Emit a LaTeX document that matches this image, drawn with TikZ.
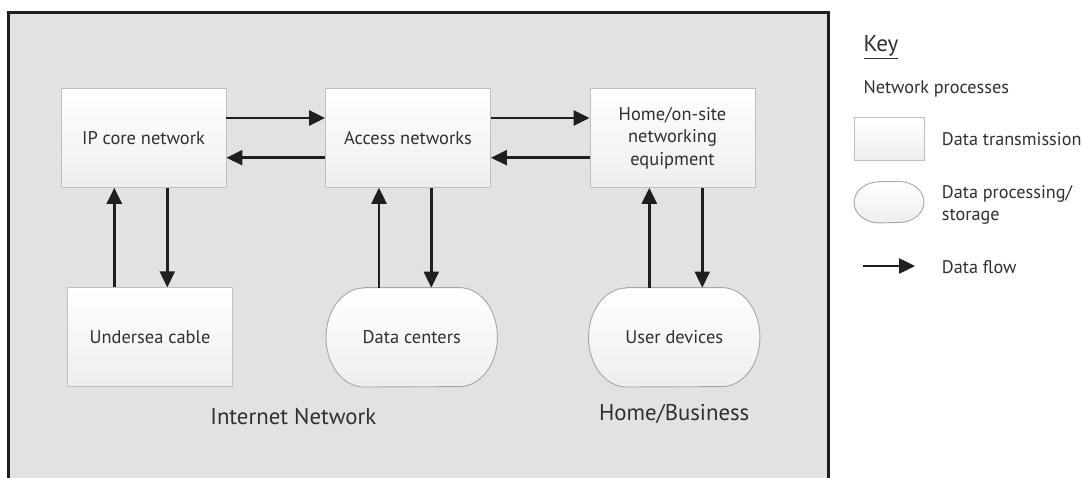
\documentclass[tikz,border=0pt]{standalone}
\usepackage{fontspec}
\setmainfont{PT Sans}
\usetikzlibrary{arrows.meta,backgrounds}
\definecolor{panel}{HTML}{E1E2E4}
\definecolor{ink}{HTML}{303030}
\definecolor{edge}{HTML}{BDBFC2}
\definecolor{shadeb}{HTML}{EDEEF0}
\tikzset{
  x=1pt,y=1pt,
  txt/.style={text=ink,font=\fontsize{18.4}{22.5}\selectfont,align=center},
  procbox/.style={txt,draw=edge,line width=0.9pt,top color=white,bottom color=shadeb,
    minimum width=165pt,minimum height=99pt,inner sep=0pt},
  storebox/.style={txt,minimum width=171pt,minimum height=99pt,inner sep=0pt},
  stadline/.style={draw=gray!70,line width=0.9pt,top color=white,bottom color=shadeb},
  flow/.style={draw=black!88,line width=2.5pt,-{Triangle[length=16pt,width=15pt]}},
  regionlbl/.style={text=ink,font=\fontsize{22.8}{26}\selectfont},
  keytxt/.style={text=ink,font=\fontsize{18.2}{22.7}\selectfont,anchor=west,align=left,inner sep=0pt},
}
% stadium outline around a node: #1 node, #2 horizontal radius, #3 vertical radius
\newcommand\stadiumaround[3]{%
  \path[stadline] ([xshift=#2]#1.north west) -- ([xshift=-#2]#1.north east)
    arc[start angle=90,end angle=-90,x radius=#2,y radius=#3]
    -- ([xshift=#2]#1.south west)
    arc[start angle=270,end angle=90,x radius=#2,y radius=#3] -- cycle;}
\begin{document}
\begin{tikzpicture}
\useasboundingbox (0,0) rectangle (1082,-477);
\clip (0,0) rectangle (1082,-477);
% framed panel
\begin{scope}[on background layer]
  \fill[white] (0,0) rectangle (1082,-477);
  \draw[fill=panel,draw=black!88,line width=2.8pt] (8.3,-12.7) rectangle (828.3,-500);
\end{scope}

% transmission boxes
\node[procbox] (ip)   at (143.5,-137.8) {IP core network};
\node[procbox] (acc)  at (408,-137.8)   {Access networks};
\node[procbox] (home) at (672.5,-137.8) {Home/on-site\\networking\\equipment};
\node[procbox] (uc)   at (150,-337.3)   {Undersea cable};

% processing / storage nodes
\node[storebox] (dc) at (411.7,-337.3) {Data centers};
\node[storebox] (ud) at (674.2,-337.3) {User devices};
\begin{scope}[on background layer]
  \stadiumaround{dc}{38pt}{49.5pt}
  \stadiumaround{ud}{38pt}{49.5pt}
\end{scope}

% region labels
\node[regionlbl] (inet) at (293.3,-416.3) {Internet Network};
\node[regionlbl] (hb)   at (674.2,-413.7) {Home/Business};

% horizontal data flows
\draw[flow] ([yshift=19.8pt]ip.east)    -- ([yshift=19.8pt]acc.west);
\draw[flow] ([yshift=-19.9pt]acc.west)  -- ([yshift=-19.9pt]ip.east);
\draw[flow] ([yshift=19.8pt]acc.east)   -- ([yshift=19.8pt]home.west);
\draw[flow] ([yshift=-19.9pt]home.west) -- ([yshift=-19.9pt]acc.east);

% vertical data flows
\draw[flow] ([xshift=-29.2pt]ip.south |- uc.north) -- ([xshift=-29.2pt]ip.south);
\draw[flow] ([xshift=23.8pt]ip.south) -- ([xshift=23.8pt]ip.south |- uc.north);
\draw[flow] ([xshift=-29pt]acc.south |- dc.north) -- ([xshift=-29pt]acc.south);
\draw[flow] ([xshift=23.3pt]acc.south) -- ([xshift=23.3pt]acc.south |- dc.north);
\draw[flow] ([xshift=-23.2pt]home.south |- ud.north) -- ([xshift=-23.2pt]home.south);
\draw[flow] ([xshift=29.8pt]home.south) -- ([xshift=29.8pt]home.south |- ud.north);

% key
\node[keytxt,font=\fontsize{23}{26}\selectfont] (key) at (863.3,-47) {\underline{Key}};
\node[keytxt] (np) at (863.3,-89) {Network processes};
\node[procbox,minimum width=69.7pt,minimum height=42.7pt] (kbox) at (889.2,-138.7) {};
\node[keytxt] (kbt) at (941.7,-139.3) {Data transmission};
\node[minimum width=69.5pt,minimum height=41pt,inner sep=0pt] (kst) at (889,-202.2) {};
\begin{scope}[on background layer]
  \stadiumaround{kst}{25pt}{20.5pt}
\end{scope}
\node[keytxt] (kst t) at (941.7,-205) {Data processing/\\storage};
\coordinate (kf a) at (863.3,-266);
\coordinate (kf b) at (915,-266);
\draw[flow] (kf a) -- (kf b);
\node[keytxt] (kft) at (941.7,-266.7) {Data flow};
\end{tikzpicture}
\end{document}
